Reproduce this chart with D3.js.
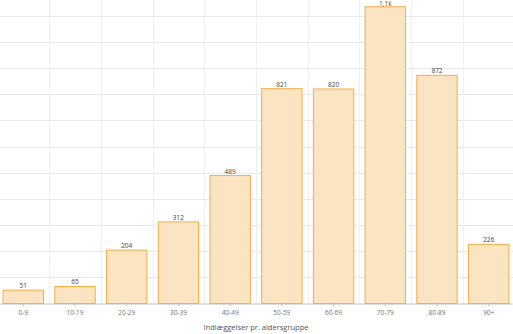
<!DOCTYPE html>
<html>
<head>
<meta charset="utf-8">
<script src="https://cdn.jsdelivr.net/npm/d3@7"></script>
<style>
  body { margin: 0; background: #fff; }
  svg { display: block; font-family: "Open Sans", "DejaVu Sans", sans-serif; }
</style>
</head>
<body>
<svg id="chart" width="513" height="334"></svg>
<script>
const ageGroups = ["0-9", "10-19", "20-29", "30-39", "40-49", "50-59", "60-69", "70-79", "80-89", "90+"];
const admissions = [51, 65, 204, 312, 489, 821, 820, 1134, 872, 226];
const valueLabels = ["51", "65", "204", "312", "489", "821", "820", "1,1k", "872", "226"];
const gridValues = [100, 200, 300, 400, 500, 600, 700, 800, 900, 1000, 1100];
const axisTitle = "Indlæggelser pr. aldersgruppe";

const width = 513, height = 334;
const baseY = 303.5;

const svg = d3.select("#chart");

const x = d3.scaleBand()
  .domain(ageGroups)
  .range([0, 512])
  .paddingInner(0.2)
  .paddingOuter(0.05);

const y = d3.scaleLinear().domain([0, 1160]).range([baseY, 0]);

const step = x.step();

// horizontal grid
svg.append("g")
  .selectAll("line")
  .data(gridValues)
  .join("line")
  .attr("x1", 0)
  .attr("x2", width)
  .attr("y1", (d) => Math.round(y(d)) + 0.5)
  .attr("y2", (d) => Math.round(y(d)) + 0.5)
  .attr("stroke", "#e8e8e8")
  .attr("stroke-width", 1);

// vertical grid between bands
svg.append("g")
  .selectAll("line")
  .data(ageGroups.slice(1))
  .join("line")
  .attr("x1", (d) => Math.round(x(d) - (step * x.paddingInner()) / 2) + 0.5)
  .attr("x2", (d) => Math.round(x(d) - (step * x.paddingInner()) / 2) + 0.5)
  .attr("y1", 0)
  .attr("y2", baseY)
  .attr("stroke", "#f0f0f0")
  .attr("stroke-width", 1);

// bars
svg.append("g")
  .selectAll("rect")
  .data(ageGroups)
  .join("rect")
  .attr("x", (d) => x(d) + 0.5)
  .attr("y", (d, i) => y(admissions[i]))
  .attr("width", x.bandwidth() - 1)
  .attr("height", (d, i) => baseY - y(admissions[i]))
  .attr("fill", "#fae4c2")
  .attr("stroke", "#f3ae45")
  .attr("stroke-width", 1);

// value labels (kept inside the top edge)
svg.append("g")
  .selectAll("text")
  .data(ageGroups)
  .join("text")
  .attr("x", (d) => x(d) + x.bandwidth() / 2)
  .attr("y", (d, i) => Math.max(6.2, y(admissions[i]) - 2))
  .attr("text-anchor", "middle")
  .attr("font-size", 6.5)
  .attr("fill", "#444")
  .text((d, i) => valueLabels[i]);

// x axis
const xAxis = svg.append("g")
  .attr("transform", `translate(0,${baseY})`)
  .call(d3.axisBottom(x).tickSize(3).tickPadding(4).tickSizeOuter(0));
xAxis.select(".domain").attr("stroke", "#bdbdbd");
xAxis.selectAll(".tick line").attr("stroke", "#c8c8c8");
xAxis.selectAll(".tick text")
  .attr("font-size", 6.5)
  .attr("fill", "#777")
  .attr("font-family", "\"Open Sans\", \"DejaVu Sans\", sans-serif");

svg.append("text")
  .attr("x", x.range()[1] / 2)
  .attr("y", 330)
  .attr("text-anchor", "middle")
  .attr("font-size", 7.5)
  .attr("fill", "#555")
  .text(axisTitle);
</script>
</body>
</html>
